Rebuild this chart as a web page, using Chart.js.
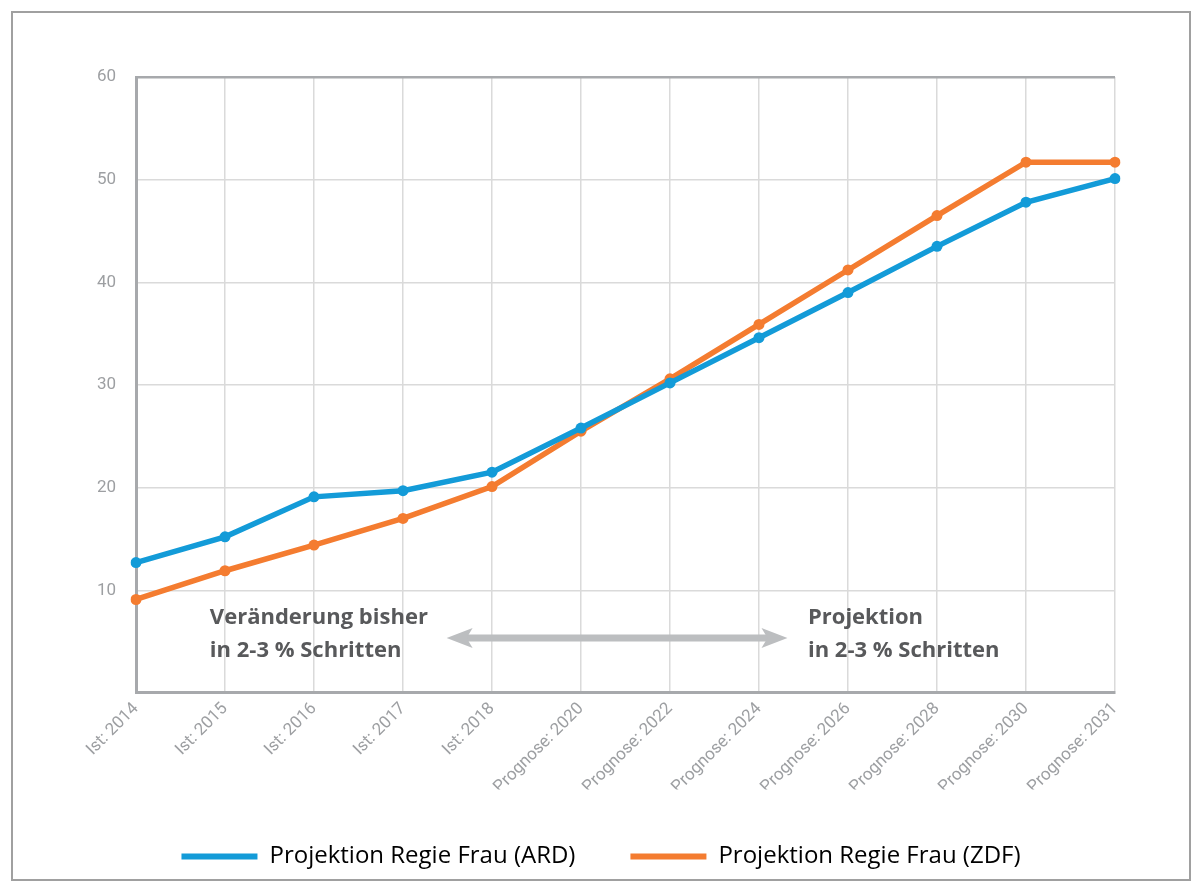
<!DOCTYPE html>
<html>
<head>
<meta charset="utf-8">
<script src="https://cdn.jsdelivr.net/npm/chart.js@4"></script>
<style>
  html, body { margin: 0; padding: 0; background: #fff; }
  .wrap { position: relative; width: 1202px; height: 891px; }
  canvas { display: block; position: absolute; left: 0; top: 0; }
  .frame {
    position: absolute;
    left: 11px;
    top: 11px;
    width: 1180px;
    height: 870px;
    box-sizing: border-box;
    border: 2px solid #a0a0a0;
    pointer-events: none;
  }
</style>
</head>
<body>
<div class="wrap">
  <canvas id="chart" width="1202" height="891"></canvas>
  <div class="frame"></div>
</div>
<script>
// categories and series
const labels = [
  "Ist: 2014", "Ist: 2015", "Ist: 2016", "Ist: 2017", "Ist: 2018",
  "Prognose: 2020", "Prognose: 2022", "Prognose: 2024", "Prognose: 2026",
  "Prognose: 2028", "Prognose: 2030", "Prognose: 2031"
]
const ardValues = [12.7, 15.2, 19.1, 19.7, 21.5, 25.8, 30.2, 34.6, 39.0, 43.5, 47.8, 50.1]
const zdfValues = [9.1, 11.9, 14.4, 17.0, 20.1, 25.5, 30.6, 35.9, 41.2, 46.5, 51.7, 51.7]
const yTicks = [0, 10, 20, 30, 40, 50, 60]

const blue = "#139bd8"
const orange = "#f47c30"
const axisGrey = "#a7a9ac"
const gridGrey = "#dadada"
const labelGrey = "#9d9fa2"

// annotation text + double arrow drawn over the plot
const annotations = {
  id: "annotations",
  afterDatasetsDraw(chart) {
    const { ctx, scales } = chart
    const x = scales.x, y = scales.y
    ctx.save()
    ctx.fillStyle = "#58595b"
    ctx.font = "bold 22px 'Open Sans', sans-serif"
    ctx.textBaseline = "middle"
    ctx.textAlign = "left"
    const lx = x.getPixelForValue(0.83)
    ctx.fillText("Veränderung bisher", lx, y.getPixelForValue(7.3))
    ctx.fillText("in 2-3 % Schritten", lx, y.getPixelForValue(4.1))
    const rx = x.getPixelForValue(7.55)
    ctx.fillText("Projektion", rx, y.getPixelForValue(7.3))
    ctx.fillText("in 2-3 % Schritten", rx, y.getPixelForValue(4.1))

    // double arrow
    const ax1 = x.getPixelForValue(3.49)
    const ax2 = x.getPixelForValue(7.32)
    const ay = y.getPixelForValue(5.35)
    ctx.strokeStyle = "#bcbec0"
    ctx.fillStyle = "#bcbec0"
    ctx.lineWidth = 7
    ctx.beginPath()
    ctx.moveTo(ax1 + 18, ay)
    ctx.lineTo(ax2 - 18, ay)
    ctx.stroke()
    for (const [tip, dir] of [[ax1, 1], [ax2, -1]]) {
      ctx.beginPath()
      ctx.moveTo(tip, ay)
      ctx.lineTo(tip + dir * 26, ay - 10)
      ctx.lineTo(tip + dir * 20, ay)
      ctx.lineTo(tip + dir * 26, ay + 10)
      ctx.closePath()
      ctx.fill()
    }
    ctx.restore()
  }
}

const ctx = document.getElementById("chart").getContext("2d")
new Chart(ctx, {
  type: "line",
  data: {
    labels: labels,
    datasets: [
      {
        label: "Projektion Regie Frau (ARD)",
        data: ardValues,
        borderColor: blue,
        backgroundColor: blue,
        borderWidth: 5.5,
        pointRadius: 5.5,
        pointBackgroundColor: blue,
        pointBorderWidth: 0,
        tension: 0,
      },
      {
        label: "Projektion Regie Frau (ZDF)",
        data: zdfValues,
        borderColor: orange,
        backgroundColor: orange,
        borderWidth: 5.5,
        pointRadius: 5.5,
        pointBackgroundColor: orange,
        pointBorderWidth: 0,
        tension: 0,
      },
    ],
  },
  options: {
    responsive: false,
    animation: false,
    layout: {
      padding: { left: 87, right: 87, top: 77, bottom: 12.6 },
    },
    plugins: {
      tooltip: { enabled: false },
      legend: {
        position: "bottom",
        labels: {
          boxWidth: 76,
          boxHeight: 6,
          padding: 55,
          color: "#3c3c3c",
          font: { size: 24, family: "'Open Sans', sans-serif" },
          generateLabels: (chart) =>
            chart.data.datasets.map((ds, i) => ({
              text: ds.label,
              fillStyle: ds.borderColor,
              strokeStyle: ds.borderColor,
              lineWidth: 0,
              datasetIndex: i,
            })),
        },
      },
    },
    scales: {
      x: {
        offset: false,
        afterFit: (scale) => { scale.height = 96.5 },
        border: { color: axisGrey, width: 3 },
        grid: { color: gridGrey, lineWidth: 1.5, drawTicks: false },
        ticks: {
          autoSkip: false,
          minRotation: 45,
          maxRotation: 45,
          padding: 6,
          color: labelGrey,
          font: { size: 17, family: "Roboto, sans-serif" },
        },
      },
      y: {
        min: 0,
        max: 60,
        afterFit: (scale) => { scale.width = 49 },
        border: { color: axisGrey, width: 3 },
        afterBuildTicks: (scale) => {
          scale.ticks = yTicks.map((v) => ({ value: v }))
        },
        grid: {
          drawTicks: false,
          color: (c) => (c.tick && c.tick.value === 60 ? axisGrey : gridGrey),
          lineWidth: (c) => (c.tick && c.tick.value === 60 ? 2.5 : 1.5),
        },
        ticks: {
          padding: 20,
          color: labelGrey,
          font: { size: 17, family: "Roboto, sans-serif" },
          callback: (v) => (v === 0 ? "" : v),
        },
      },
    },
  },
  plugins: [annotations],
})
</script>
</body>
</html>
